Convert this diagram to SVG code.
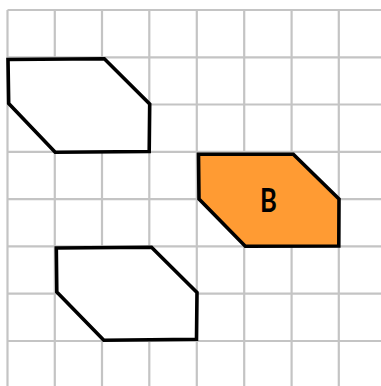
<svg xmlns="http://www.w3.org/2000/svg" width="381" height="386" viewBox="0 0 381 386">
<style>
.grid line{stroke:#c4c4c4;stroke-width:2.2}
.shape{stroke:#000;stroke-width:3.6;stroke-linejoin:miter}
.label{font-family:Lato,"Open Sans","Liberation Sans",sans-serif;font-weight:bold;font-size:32px;fill:#000;text-anchor:middle}
</style>
<rect width="381" height="386" fill="#fff"/>
<g class="grid">
<line x1="7.5" y1="10" x2="7.5" y2="386"/>
<line x1="54.8" y1="10" x2="54.8" y2="386"/>
<line x1="102" y1="10" x2="102" y2="386"/>
<line x1="149.3" y1="10" x2="149.3" y2="386"/>
<line x1="196.8" y1="10" x2="196.8" y2="386"/>
<line x1="244.2" y1="10" x2="244.2" y2="386"/>
<line x1="291.6" y1="10" x2="291.6" y2="386"/>
<line x1="338.8" y1="10" x2="338.8" y2="386"/>
<line x1="7.5" y1="10" x2="381" y2="10"/>
<line x1="7.5" y1="57.3" x2="381" y2="57.3"/>
<line x1="7.5" y1="104.5" x2="381" y2="104.5"/>
<line x1="7.5" y1="151.8" x2="381" y2="151.8"/>
<line x1="7.5" y1="199.1" x2="381" y2="199.1"/>
<line x1="7.5" y1="246.4" x2="381" y2="246.4"/>
<line x1="7.5" y1="293.7" x2="381" y2="293.7"/>
<line x1="7.5" y1="341" x2="381" y2="341"/>
</g>
<g id="shape-top">
<polygon class="shape" fill="#fff" points="8,59.5 104.3,58.7 149.7,104 149.2,151.5 55.2,152.3 8.7,103.5"/>
</g>
<g id="shape-bottom">
<polygon class="shape" fill="#fff" points="56.3,248 151.5,247.2 197,292.5 196.5,339.3 103.8,340.2 56.8,292"/>
</g>
<g id="shape-B">
<polygon class="shape" fill="#ff9b33" points="198.5,154.3 293.3,154.3 339,199 338.8,246 245.3,246.3 199,199"/>
<text class="label" transform="translate(268.3 211.5) scale(0.8 1)">B</text>
</g>
</svg>
